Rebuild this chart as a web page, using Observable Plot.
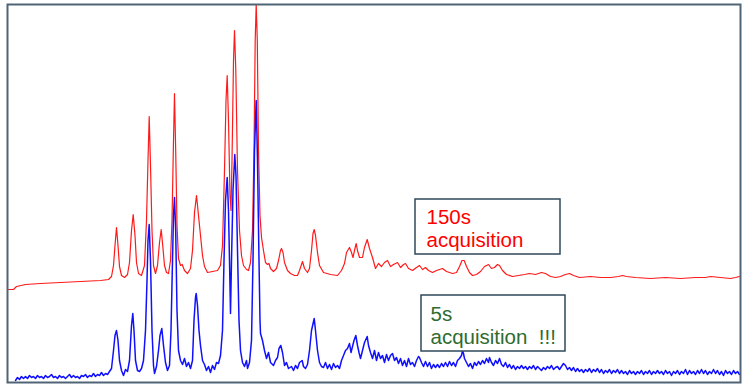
<!DOCTYPE html>
<html>
<head>
<meta charset="utf-8">
<script src="https://cdn.jsdelivr.net/npm/d3@7"></script>
<script src="https://cdn.jsdelivr.net/npm/@observablehq/plot@0.6"></script>
<style>
  html, body { margin: 0; padding: 0; background: #fff; }
  #chart svg { display: block; }
</style>
</head>
<body>
<div id="chart"></div>
<script>
// Spectrum acquired in 150 s: [channel, intensity]
const spectrum150s = [[7,94],[13,94],[16,97],[25,99],[40,100],[60,101],[80,102],[100,103],[108,104],[111,107],[113,118],[114.5,138],[116,156],[117.5,138],[119,117],[121,108],[124,106],[127,109],[129,121],[131,153],[132.7,169],[134.5,148],[136,121],[138,110],[141,108],[144,118],[146,163],[147.5,223],[148.7,267],[150,218],[151.5,153],[153,118],[155,110],[157,118],[159,141],[160.7,154],[162.5,135],[164,118],[166,111],[168,110],[170,123],[171.5,163],[173,243],[174,290],[175.2,233],[176.5,158],[178,125],[180,118],[181.7,119],[184,113],[187,110],[190,115],[192,133],[194,171],[196,188],[198,168],[200,148],[202,128],[204,117],[207,111],[212,112],[217,113],[220,118],[222,138],[224,213],[225.5,283],[226.7,308],[228,263],[229.5,188],[230.5,173],[231.5,223],[233,323],[234,353],[235.3,313],[237,213],[239,153],[241,128],[243,118],[246,114],[248,113],[250,121],[252,153],[253.5,233],[254.7,343],[255.7,379],[256.8,343],[258,233],[259.5,168],[261,146],[263,133],[265,121],[267,119],[268.5,120],[270,115],[273,112],[276,115],[278,123],[280,133],[281,135],[282.5,131],[284,121],[287,113],[290,110],[294,108],[297,108],[299,113],[302,122],[304,115],[307,111],[309,115],[311,133],[312.5,150],[313.7,154],[315,148],[317,131],[319,118],[323,111],[330,109],[337,108],[341,113],[344,120],[346,131],[349,136],[351,131],[352.5,126],[354,133],[355.7,140],[357,133],[359,126],[362,126],[364,136],[366.7,144],[369,135],[372,126],[375,115],[378,120],[381,117],[384,121],[387,123],[390,117],[393,119],[397,121],[400,116],[403,119],[405,120],[408,115],[412,113],[416,116],[419,118],[422,114],[425,116],[428,113],[432,111],[436,113],[439,114],[442,115],[446,112],[452,110],[456,111],[459,117],[461.5,123],[463.7,123],[466,117],[469,111],[472,108],[476,109],[480,112],[484,117],[486,118],[488,119],[491,115],[494,116],[497,119],[499,118],[502,113],[506,109],[512,107],[518,108],[524,109],[529,110],[535,109],[541,111],[545,110],[550,107],[555,106],[560,107],[565,109],[569,110],[573,108],[579,106],[590,107],[600,106],[610,106],[618,107],[622,108],[626,107],[635,106],[650,105],[665,106],[680,105],[695,106],[705,106],[710,107],[720,106],[730,105],[735,106],[739,107]];

// Spectrum acquired in 5 s: [channel, intensity]
const spectrum5s = [[15,3],[17,6],[19,4],[21,7],[23,5],[25,7],[27,5],[29,8],[31,6],[33,7],[35,5],[37,8],[39,6],[41,7],[43,5],[45,8],[47,6],[49,7],[51,9],[53,6],[55,7],[57,5],[59,8],[61,6],[63,7],[65,5],[67,7],[69,9],[71,6],[73,8],[75,6],[77,7],[79,5],[81,8],[83,7],[85,9],[87,6],[89,8],[91,7],[93,10],[95,7],[97,9],[99,8],[101,11],[103,8],[105,10],[107,9],[109,12],[111,15],[113,33],[114.5,48],[116,53],[117.5,43],[119,23],[121,13],[123,8],[125,14],[127,12],[129,23],[131,58],[132.3,70],[133.5,53],[135,23],[137,13],[139,12],[141,15],[143,23],[145,53],[146.5,103],[147.5,143],[148.7,159],[150,123],[151.5,53],[153,18],[154,10],[156,17],[158,33],[159.5,48],[161.3,55],[163,38],[165,21],[167,13],[169,18],[170.5,53],[172,123],[173,168],[174,186],[175.2,153],[176.5,73],[178,33],[180,23],[182,19],[184,25],[186,17],[188,21],[190,15],[192,23],[193.5,63],[195,86],[195.7,90],[197,78],[198.5,53],[200,38],[202,23],[204,19],[206,13],[208,17],[210,11],[212,18],[214,14],[216,21],[218,20],[220,28],[222,53],[223.5,123],[225,183],[226.7,206],[228,173],[229,123],[230,70],[231,123],[232.5,193],[234.3,229],[235.5,208],[237,133],[238.5,63],[240,33],[242,21],[244,17],[246,23],[247,15],[249,21],[251,43],[252.5,123],[254,233],[255.7,283],[257,223],[258.5,123],[259.5,63],[260,50],[262,43],[264,33],[266,25],[268,31],[270,21],[273,18],[275,23],[277,26],[278.5,35],[280.3,38],[282,31],[284,18],[286,21],[288,15],[291,17],[293,13],[295,18],[297,15],[299,21],[301.7,23],[303,17],[305,15],[307,19],[309,33],[311,53],[313.7,65],[315,53],[317,33],[319,21],[321,17],[323,16],[325,21],[327,15],[329,19],[331,14],[333,20],[335,16],[337,18],[339,15],[341,23],[343,28],[345,33],[347,35],[349,40],[350.5,31],[352,37],[353.5,43],[355.3,48],[357,38],[358.5,31],[360,25],[362,33],[364,41],[366.7,47],[368,38],[370,31],[372,25],[374,33],[376,23],[378,31],[380,25],[382,28],[384,21],[386,29],[388,23],[390,28],[392,30],[394,23],[396,26],[398,20],[400,25],[402,18],[404,23],[406,17],[408,25],[410,19],[412,21],[414,17],[416,23],[418,27],[419,26],[421,21],[423,17],[425,22],[427,17],[429,21],[431,15],[433,19],[435,16],[437,19],[439,16],[441,20],[443,17],[445,21],[447,17],[449,22],[451,18],[453,21],[455,17],[457,23],[459,25],[461,28],[462,33],[463,30],[464,25],[466,21],[468,17],[470,20],[472,15],[474,21],[476,18],[478,22],[480,19],[482,23],[484,20],[486,25],[488,21],[489,26],[491,21],[493,18],[495,23],[497,20],[499,25],[501,19],[503,17],[505,21],[507,16],[509,19],[511,15],[513,18],[515,14],[517,17],[519,15],[521,18],[523,15],[525,17],[527,14],[529,17],[531,15],[533,18],[535,14],[537,17],[539,15],[541,13],[543,16],[545,14],[547,17],[549,15],[551,18],[553,14],[555,16],[557,17],[559,14],[561,17],[563,20],[565,18],[567,14],[569,16],[571,13],[573,16],[575,12],[577,15],[579,12],[581,14],[583,11],[585,14],[587,12],[589,15],[591,11],[593,14],[595,12],[597,15],[599,11],[601,14],[603,10],[605,13],[607,11],[609,14],[611,10],[613,13],[615,11],[617,14],[619,10],[621,13],[623,10],[625,12],[627,9],[629,13],[631,10],[633,12],[635,9],[637,12],[639,10],[641,13],[643,9],[645,12],[647,10],[649,13],[651,9],[653,12],[655,10],[657,13],[659,10],[661,12],[663,9],[665,13],[667,10],[669,12],[671,8],[673,12],[675,10],[677,13],[679,9],[681,12],[683,10],[685,14],[687,9],[689,13],[691,10],[693,12],[695,9],[697,13],[699,10],[701,14],[703,10],[705,13],[707,9],[709,12],[711,10],[713,14],[715,10],[717,13],[719,9],[721,12],[723,8],[725,13],[727,10],[729,12],[731,9],[733,13],[735,10],[737,12],[739,9]];

// Annotation boxes (channel range, intensity range)
const labelBoxes = [
  {x1: 415, x2: 560, y1: 129, y2: 184},
  {x1: 421, x2: 565, y1: 32, y2: 88}
];
// Annotation text lines (anchored at baseline)
const labelLines = [
  {x: 426, y: 160, text: "150s", color: "#ff0000"},
  {x: 426, y: 136.5, text: "acquisition", color: "#ff0000"},
  {x: 430, y: 63, text: "5s", color: "#2f6b2f"},
  {x: 430, y: 39.5, text: "acquisition\u00a0\u00a0!!!", color: "#2f6b2f"}
];

const chart = Plot.plot({
  width: 743,
  height: 384,
  marginLeft: 7,
  marginRight: 3,
  marginTop: 4,
  marginBottom: 2,
  x: {domain: [7, 740], axis: null},
  y: {domain: [1, 379], axis: null},
  style: {fontFamily: "'Liberation Sans', Arial, sans-serif", background: "#fff"},
  marks: [
    Plot.line(spectrum150s, {x: d => d[0], y: d => d[1], stroke: "#ff1a1a", strokeWidth: 1.2}),
    Plot.line(spectrum5s, {x: d => d[0], y: d => d[1], stroke: "#1010ff", strokeWidth: 1.5}),
    Plot.rect(labelBoxes, {x1: "x1", x2: "x2", y1: "y1", y2: "y2", fill: "#fff", stroke: "#2e4a5a", strokeWidth: 1.5}),
    Plot.text(labelLines, {x: "x", y: "y", text: "text", fill: d => d.color, textAnchor: "start", lineAnchor: "bottom", fontSize: 20.5}),
    Plot.frame({stroke: "#4f6477", strokeWidth: 2})
  ]
});
document.getElementById("chart").append(chart);
</script>
</body>
</html>
